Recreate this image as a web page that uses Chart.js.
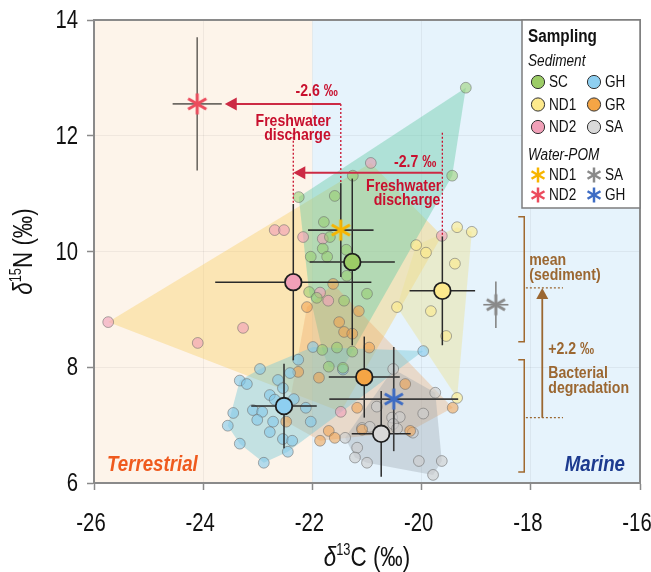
<!DOCTYPE html>
<html>
<head>
<meta charset="utf-8">
<script src="https://cdn.jsdelivr.net/npm/chart.js@4.4.1/dist/chart.umd.min.js"></script>
<style>
  html, body { margin: 0; padding: 0; background: #fff; }
  #wrap { width: 651px; height: 572px; }
</style>
</head>
<body>
<div id="wrap"><canvas id="c" width="651" height="572"></canvas></div>
<script>
// ---- axis ticks (‰) ----
const xTicks = [-26, -24, -22, -20, -18, -16];
const yTicks = [6, 8, 10, 12, 14];

// ---- sediment samples: δ13C and δ15N (‰) per site ----
const groups = ['SC', 'ND1', 'ND2', 'GH', 'GR', 'SA'];

const scC  = [-19.19, -19.44, -21.26, -22.25, -21.59, -21.79, -21.68, -21.81, -22.03, -21.73, -21.38, -21.37, -22.06, -21.92, -21.42, -21.00, -21.82, -21.55, -21.27, -21.70, -21.44];
const scN  = [12.83, 11.31, 11.31, 10.94, 10.96, 10.51, 10.25, 10.05, 9.91, 9.91, 10.03, 9.58, 9.30, 9.20, 9.15, 9.27, 8.30, 8.34, 8.27, 8.01, 7.99];

const nd1C = [-19.35, -19.08, -20.10, -19.92, -19.39, -20.45, -19.83, -19.55, -19.35];
const nd1N = [10.42, 10.34, 10.11, 9.98, 9.79, 9.04, 8.97, 8.54, 7.47];

const nd2C = [-25.74, -24.10, -23.27, -22.69, -22.52, -22.17, -21.81, -20.93, -19.63, -21.86, -21.71, -21.48];
const nd2N = [8.78, 8.42, 8.68, 10.37, 10.37, 10.25, 10.22, 11.53, 10.27, 9.29, 9.15, 7.23];

const ghC  = [-22.96, -23.33, -23.20, -22.63, -22.54, -22.41, -22.26, -21.99, -22.78, -22.69, -22.34, -23.09, -22.92, -23.45, -23.01, -22.72, -23.55, -22.78, -23.33, -22.54, -22.37, -22.45, -22.89, -22.12, -22.03, -21.44, -19.97];
const ghN  = [7.97, 7.77, 7.71, 7.78, 7.64, 7.90, 8.13, 8.35, 7.52, 7.44, 7.45, 7.26, 7.23, 7.21, 7.09, 7.06, 6.99, 6.88, 6.68, 6.76, 6.73, 6.54, 6.35, 7.30, 7.06, 7.96, 8.28];

const grC  = [-21.62, -22.10, -21.15, -21.51, -21.42, -21.27, -20.96, -22.26, -21.88, -22.48, -20.30, -21.18, -19.43, -20.21, -21.09, -21.70, -21.86, -21.59];
const grN  = [9.44, 9.04, 8.97, 8.78, 8.61, 8.58, 8.34, 7.92, 7.82, 7.06, 7.71, 7.30, 7.30, 6.90, 6.92, 6.90, 6.73, 6.78];

const saC  = [-20.52, -19.75, -20.82, -20.54, -20.40, -19.97, -20.52, -20.45, -20.16, -21.09, -20.95, -21.40, -21.18, -21.22, -21.00, -20.05, -19.63, -19.79];
const saN  = [7.97, 7.56, 7.32, 7.13, 7.14, 7.20, 7.02, 6.94, 6.87, 6.95, 6.97, 6.78, 6.61, 6.44, 6.35, 6.38, 6.38, 6.14];

// ---- sediment site means ± SD ----
const meanC = [-21.27, -19.62, -22.35, -22.52, -21.05, -20.74];
const meanN = [9.82, 9.32, 9.47, 7.33, 7.83, 6.85];
const sdC   = [0.78, 0.60, 1.43, 0.60, 0.65, 0.54];
const sdN   = [1.44, 0.94, 1.35, 0.73, 0.70, 0.74];

// ---- water POM means ± SD ----
const pomSites = ['ND1', 'ND2', 'SA', 'GH'];
const pomC   = [-21.48, -24.11, -18.64, -20.51];
const pomN   = [10.37, 12.55, 9.08, 7.45];
const pomSdC = [0.60, 0.45, 0.23, 1.18];
const pomSdN = [0.81, 1.15, 0.40, 0.90];

// ---- bacterial degradation shift (δ15N) and bracketed ranges ----
const degradationN = [7.13, 9.37];
const bracketRanges = [[8.44, 10.60], [6.19, 8.13]];

const sedC = { SC: scC, ND1: nd1C, ND2: nd2C, GH: ghC, GR: grC, SA: saC };
const sedN = { SC: scN, ND1: nd1N, ND2: nd2N, GH: ghN, GR: grN, SA: saN };

// ---- styling ----
const pointFill = {
  SC: 'rgba(150,205,110,0.55)', ND1: 'rgba(253,235,140,0.62)', ND2: 'rgba(240,160,185,0.62)',
  GH: 'rgba(130,200,235,0.6)', GR: 'rgba(242,160,75,0.55)', SA: 'rgba(205,205,205,0.62)'
};
const meanFill = {
  SC: '#9ccc66', ND1: '#fde98c', ND2: '#f1a0b8', GH: '#8ecff1', GR: '#f5a545', SA: '#d9d9d9'
};
const hullFill = {
  ND2: 'rgba(248,208,105,0.42)', ND1: 'rgba(236,226,150,0.45)', SC: 'rgba(105,202,168,0.44)',
  GR: 'rgba(238,165,100,0.33)', GH: 'rgba(115,198,215,0.42)', SA: 'rgba(150,160,170,0.35)'
};
const hullOrder = ['ND2', 'ND1', 'SC', 'GR', 'GH', 'SA'];
const starColor = { ND1: '#f7b500', ND2: '#ec4b5d', SA: '#8a8a8a', GH: '#3e6cc4' };
const starBarColor = { ND1: '#333333', ND2: '#6e6a64', SA: '#858585', GH: '#3a3a3a' };
const RED = '#c8102e', BROWN = '#9b6731';
const FONT = '"Liberation Sans", Arial, sans-serif';

// six-spoke asterisk marker
function makeStar(color, r, lw) {
  const s = Math.ceil(2 * r + lw + 2);
  const cv = document.createElement('canvas');
  cv.width = s; cv.height = s;
  const g = cv.getContext('2d');
  g.strokeStyle = color; g.lineWidth = lw; g.lineCap = 'butt';
  g.translate(s / 2, s / 2);
  for (let k = 0; k < 3; k++) {
    const a = Math.PI / 2 + k * Math.PI / 3;
    g.beginPath();
    g.moveTo(Math.cos(a) * r, Math.sin(a) * r);
    g.lineTo(-Math.cos(a) * r, -Math.sin(a) * r);
    g.stroke();
  }
  return cv;
}
const starMarks = {}, starLegend = {};
pomSites.forEach(s => { starMarks[s] = makeStar(starColor[s], 10.5, 3); starLegend[s] = makeStar(starColor[s], 7.5, 2.5); });

// ---- datasets ----
const datasets = [];
groups.forEach(g => {
  datasets.push({
    data: sedC[g].map((c, j) => ({ x: c, y: sedN[g][j] })),
    backgroundColor: pointFill[g], borderColor: 'rgba(105,105,105,0.55)', borderWidth: 1,
    pointRadius: 5.4, order: 10
  });
});
function bar(x0, y0, x1, y1, color, w, order) {
  return { data: [{ x: x0, y: y0 }, { x: x1, y: y1 }], showLine: true, borderColor: color,
           borderWidth: w, pointRadius: 0, order: order };
}
groups.forEach((g, i) => {
  datasets.push(bar(meanC[i] - sdC[i], meanN[i], meanC[i] + sdC[i], meanN[i], '#2a2a2a', 1.5, 8));
  datasets.push(bar(meanC[i], meanN[i] - sdN[i], meanC[i], meanN[i] + sdN[i], '#2a2a2a', 1.5, 8));
});
datasets.push({
  data: meanC.map((c, i) => ({ x: c, y: meanN[i] })),
  backgroundColor: groups.map(g => meanFill[g]), borderColor: '#1e1e1e', borderWidth: 1.8,
  pointRadius: 8.3, order: 6
});
pomSites.forEach((s, i) => {
  datasets.push(bar(pomC[i] - pomSdC[i], pomN[i], pomC[i] + pomSdC[i], pomN[i], starBarColor[s], 1.6, 4));
  datasets.push(bar(pomC[i], pomN[i] - pomSdN[i], pomC[i], pomN[i] + pomSdN[i], starBarColor[s], 1.6, 4));
});
datasets.push({
  data: pomC.map((c, i) => ({ x: c, y: pomN[i] })),
  pointStyle: pomSites.map(s => starMarks[s]), pointRadius: 10, order: 2
});

// ---- drawing helpers ----
function txt(ctx, s, x, y, o) {
  ctx.save();
  ctx.font = `${o.style || 'normal'} ${o.weight || 'normal'} ${o.size}px ${FONT}`;
  ctx.fillStyle = o.color || '#111';
  ctx.textAlign = o.align || 'left';
  ctx.textBaseline = o.base || 'alphabetic';
  ctx.translate(x, y);
  ctx.scale(o.sq || 1, 1);
  ctx.fillText(s, 0, 0);
  ctx.restore();
}
function rich(ctx, parts, cx, cy, rot, sq) {
  ctx.save();
  ctx.translate(cx, cy);
  if (rot) ctx.rotate(rot);
  ctx.scale(sq, 1);
  ctx.fillStyle = '#111'; ctx.textAlign = 'left'; ctx.textBaseline = 'alphabetic';
  let w = 0;
  parts.forEach(p => { ctx.font = `${p.style || 'normal'} normal ${p.size}px ${FONT}`; p.w = ctx.measureText(p.t).width; w += p.w; });
  let x = -w / 2;
  parts.forEach(p => { ctx.font = `${p.style || 'normal'} normal ${p.size}px ${FONT}`; ctx.fillText(p.t, x, p.dy || 0); x += p.w; });
  ctx.restore();
}
function convexHull(pts) {
  const p = pts.slice().sort((a, b) => a[0] - b[0] || a[1] - b[1]);
  const cross = (o, a, b) => (a[0] - o[0]) * (b[1] - o[1]) - (a[1] - o[1]) * (b[0] - o[0]);
  const lo = [], up = [];
  for (const q of p) { while (lo.length >= 2 && cross(lo[lo.length - 2], lo[lo.length - 1], q) <= 0) lo.pop(); lo.push(q); }
  for (const q of p.slice().reverse()) { while (up.length >= 2 && cross(up[up.length - 2], up[up.length - 1], q) <= 0) up.pop(); up.push(q); }
  return lo.slice(0, -1).concat(up.slice(0, -1));
}
function line(ctx, x0, y0, x1, y1, color, w, dash) {
  ctx.save(); ctx.strokeStyle = color; ctx.lineWidth = w; ctx.setLineDash(dash || []);
  ctx.beginPath(); ctx.moveTo(x0, y0); ctx.lineTo(x1, y1); ctx.stroke(); ctx.restore();
}
function head(ctx, tx, ty, dir, len, half, color) {
  ctx.save(); ctx.fillStyle = color; ctx.beginPath(); ctx.moveTo(tx, ty);
  if (dir === 'left') { ctx.lineTo(tx + len, ty - half); ctx.lineTo(tx + len, ty + half); }
  else { ctx.lineTo(tx - half, ty + len); ctx.lineTo(tx + half, ty + len); }
  ctx.closePath(); ctx.fill(); ctx.restore();
}

// ---- plugins ----
const backdrop = {
  id: 'backdrop',
  beforeDraw(chart) {
    const { ctx, chartArea: a, scales: { x } } = chart;
    ctx.save();
    ctx.fillStyle = '#ffffff'; ctx.fillRect(0, 0, chart.width, chart.height);
    const split = x.getPixelForValue(-22);
    ctx.fillStyle = '#fdf4ea'; ctx.fillRect(a.left, a.top, split - a.left, a.bottom - a.top);
    ctx.fillStyle = '#e6f3fc'; ctx.fillRect(split, a.top, a.right - split, a.bottom - a.top);
    ctx.restore();
  },
  beforeDatasetsDraw(chart) {
    const { ctx, chartArea: a, scales: { x, y } } = chart;
    ctx.save();
    ctx.beginPath(); ctx.rect(a.left, a.top, a.right - a.left, a.bottom - a.top); ctx.clip();
    hullOrder.forEach(g => {
      const pts = sedC[g].map((c, j) => [x.getPixelForValue(c), y.getPixelForValue(sedN[g][j])]);
      const h = convexHull(pts);
      ctx.fillStyle = hullFill[g];
      ctx.beginPath();
      h.forEach((p, k) => k ? ctx.lineTo(p[0], p[1]) : ctx.moveTo(p[0], p[1]));
      ctx.closePath(); ctx.fill();
    });
    ctx.restore();
  }
};

const overlay = {
  id: 'overlay',
  afterDraw(chart) {
    const { ctx, chartArea: a, scales: { x: xs, y: ys } } = chart;
    const X = v => xs.getPixelForValue(v), Y = v => ys.getPixelForValue(v);

    // top and right frame
    ctx.save(); ctx.strokeStyle = '#8a8a8a'; ctx.lineWidth = 2;
    ctx.beginPath(); ctx.moveTo(a.left - 1, a.top); ctx.lineTo(a.right, a.top); ctx.lineTo(a.right, a.bottom); ctx.stroke();
    ctx.restore();

    // tick labels
    xTicks.forEach(v => txt(ctx, String(v), X(v) - 3, a.bottom + 41, { size: 26, sq: 0.78, align: 'center', base: 'middle' }));
    yTicks.forEach(v => txt(ctx, String(v), a.left - 16, Y(v) + 1, { size: 26, sq: 0.78, align: 'right', base: 'middle' }));

    // axis titles
    rich(ctx, [{ t: 'δ', size: 28, style: 'italic' }, { t: '13', size: 16, dy: -11 }, { t: 'C (‰)', size: 28 }],
         (a.left + a.right) / 2, 566, 0, 0.8);
    rich(ctx, [{ t: 'δ', size: 28, style: 'italic' }, { t: '15', size: 16, dy: -11 }, { t: 'N (‰)', size: 28 }],
         32, (a.top + a.bottom) / 2, -Math.PI / 2, 0.8);

    // region labels
    txt(ctx, 'Terrestrial', a.left + 13, a.bottom - 12, { size: 22, weight: 'bold', style: 'italic', sq: 0.85, color: '#ef5a1e' });
    txt(ctx, 'Marine', a.right - 15, a.bottom - 12, { size: 22, weight: 'bold', style: 'italic', sq: 0.85, color: '#1c3a8f', align: 'right' });

    // freshwater discharge arrows
    const tf = { size: 17, weight: 'bold', sq: 0.83, color: RED, align: 'right' };
    // POM: ND1 -> ND2
    const a1y = Y(pomN[1]), a1x0 = X(pomC[0]), a1x1 = X(pomC[1] + pomSdC[1]) + 3;
    line(ctx, a1x0, a1y, a1x0, Y(pomN[0] + pomSdN[0]), RED, 1.3, [2, 2]);
    line(ctx, a1x0, a1y, a1x1 + 10, a1y, '#cc2a44', 2);
    head(ctx, a1x1, a1y, 'left', 12, 6.5, '#cc2a44');
    txt(ctx, (pomC[1] - pomC[0]).toFixed(1) + ' ‰', a1x0 - 3, a1y - 8, tf);
    txt(ctx, 'Freshwater', a1x0 - 10, a1y + 22, tf);
    txt(ctx, 'discharge', a1x0 - 10, a1y + 36, tf);
    // sediment: ND1 -> ND2
    const a2y = Y(11.36), a2x0 = X(meanC[1]), a2x1 = X(meanC[2]), dotTop = Y(12.05);
    line(ctx, a2x0, dotTop, a2x0, Y(meanN[1] + sdN[1]), RED, 1.3, [2, 2]);
    line(ctx, a2x1, dotTop, a2x1, Y(meanN[2] + sdN[2]), RED, 1.3, [2, 2]);
    line(ctx, a2x0, a2y, a2x1 + 10, a2y, '#cc2a44', 2);
    head(ctx, a2x1, a2y, 'left', 12, 6.5, '#cc2a44');
    txt(ctx, (meanC[2] - meanC[1]).toFixed(1) + ' ‰', a2x0 - 6, a2y - 6, tf);
    txt(ctx, 'Freshwater', a2x0 - 1, a2y + 18, tf);
    txt(ctx, 'discharge', a2x0 - 2, a2y + 32, tf);

    // bacterial degradation
    const bx = X(-18.12);
    bracketRanges.forEach(r => {
      ctx.save(); ctx.strokeStyle = '#a0692f'; ctx.lineWidth = 1.5;
      ctx.beginPath(); ctx.moveTo(bx - 6, Y(r[1])); ctx.lineTo(bx, Y(r[1])); ctx.lineTo(bx, Y(r[0])); ctx.lineTo(bx - 6, Y(r[0])); ctx.stroke();
      ctx.restore();
    });
    const dx0 = X(-18.09), dx1 = X(-17.41), ax = X(-17.79);
    const lowY = Y(degradationN[0]), highY = Y(degradationN[1]);
    line(ctx, dx0, lowY, dx1, lowY, BROWN, 1.2, [2, 2]);
    line(ctx, dx0, highY, dx1, highY, BROWN, 1.2, [2, 2]);
    line(ctx, ax, lowY, ax, highY + 10, BROWN, 1.8);
    head(ctx, ax, highY, 'up', 11, 6, BROWN);
    const tb = { size: 17, weight: 'bold', sq: 0.83, color: BROWN };
    txt(ctx, 'mean', ax - 13, highY - 23, tb);
    txt(ctx, '(sediment)', ax - 13, highY - 8, tb);
    txt(ctx, '+' + (degradationN[1] - degradationN[0]).toFixed(1) + ' ‰', ax + 6, lowY - 64, tb);
    txt(ctx, 'Bacterial', ax + 6, lowY - 40, tb);
    txt(ctx, 'degradation', ax + 6, lowY - 25, tb);

    // legend
    const lw = 118, lh = 188, lx = a.right - lw, ly = a.top;
    ctx.save();
    ctx.fillStyle = '#ffffff'; ctx.fillRect(lx, ly, lw, lh);
    ctx.strokeStyle = '#7d7d7d'; ctx.lineWidth = 1.5; ctx.strokeRect(lx, ly, lw, lh);
    ctx.restore();
    txt(ctx, 'Sampling', lx + 6, ly + 22, { size: 18, weight: 'bold', sq: 0.85 });
    txt(ctx, 'Sediment', lx + 6, ly + 46, { size: 16, style: 'italic', sq: 0.85 });
    const colX = [lx + 16, lx + 72];
    const legendOrder = [['SC', 'GH'], ['ND1', 'GR'], ['ND2', 'SA']];
    legendOrder.forEach((row, r) => {
      const cy = ly + 62 + r * 22.5;
      row.forEach((g, c) => {
        ctx.save(); ctx.fillStyle = meanFill[g]; ctx.strokeStyle = '#333'; ctx.lineWidth = 1;
        ctx.beginPath(); ctx.arc(colX[c], cy, 6.6, 0, Math.PI * 2); ctx.fill(); ctx.stroke(); ctx.restore();
        txt(ctx, g, colX[c] + 11, cy + 1, { size: 16, sq: 0.85, base: 'middle' });
      });
    });
    txt(ctx, 'Water-POM', lx + 6, ly + 140, { size: 16, style: 'italic', sq: 0.85 });
    const pomRows = [['ND1', 'SA'], ['ND2', 'GH']];
    pomRows.forEach((row, r) => {
      const cy = ly + 155 + r * 20;
      row.forEach((s, c) => {
        const m = starLegend[s];
        ctx.drawImage(m, colX[c] - m.width / 2, cy - m.height / 2);
        txt(ctx, s, colX[c] + 11, cy + 1, { size: 16, sq: 0.85, base: 'middle' });
      });
    });
  }
};

// ---- chart ----
new Chart(document.getElementById('c').getContext('2d'), {
  type: 'scatter',
  data: { datasets },
  options: {
    responsive: false, animation: false, devicePixelRatio: 1,
    layout: { padding: { top: 20, right: 11, left: 0, bottom: 0 } },
    plugins: { legend: { display: false }, tooltip: { enabled: false } },
    elements: { line: { tension: 0 } },
    scales: {
      x: {
        type: 'linear', min: -26, max: -16,
        afterBuildTicks: s => { s.ticks = xTicks.map(v => ({ value: v })); },
        afterFit: s => { s.height = 89; },
        ticks: { display: false },
        grid: { color: 'rgba(0,0,0,0.05)', tickColor: '#8a8a8a', tickLength: 7, tickWidth: 1.5 },
        border: { display: true, color: '#8a8a8a', width: 2 }
      },
      y: {
        type: 'linear', min: 6, max: 14,
        afterBuildTicks: s => { s.ticks = yTicks.map(v => ({ value: v })); },
        afterFit: s => { s.width = 94; },
        ticks: { display: false },
        grid: { color: 'rgba(0,0,0,0.05)', tickColor: '#8a8a8a', tickLength: 7, tickWidth: 1.5 },
        border: { display: true, color: '#8a8a8a', width: 2 }
      }
    }
  },
  plugins: [backdrop, overlay]
});
</script>
</body>
</html>
